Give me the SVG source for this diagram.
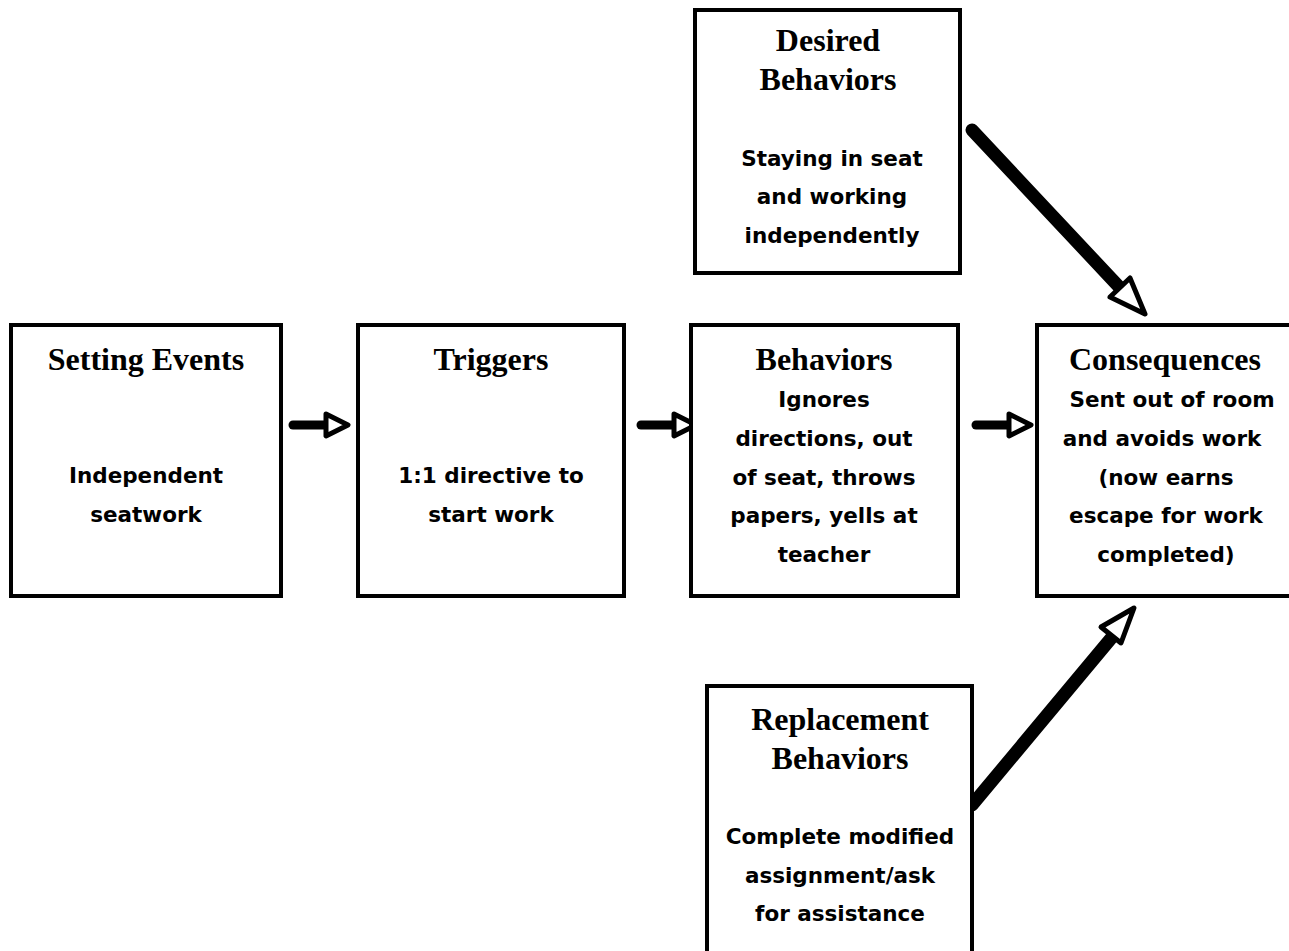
<svg xmlns="http://www.w3.org/2000/svg" width="1289" height="951" viewBox="0 0 1289 951">
<style>
.box{fill:#fff;stroke:#000;stroke-width:4}
.h{font-family:"Liberation Serif","Times New Roman",serif;font-weight:bold;font-size:32px;text-anchor:middle;fill:#000}
.b{font-family:"DejaVu Sans","Noto Sans",sans-serif;font-weight:bold;font-size:21.5px;text-anchor:middle;fill:#000}
.shaft{stroke:#000;stroke-linecap:round;fill:none}
.head{fill:#fff;stroke:#000;stroke-width:5;stroke-linejoin:round}
</style>
<rect width="1289" height="951" fill="#fff"/>
<g id="connectors">
<line class="shaft" x1="293" y1="425" x2="326" y2="425" stroke-width="9"/>
<polygon class="head" points="326,414 348,425 326,436"/>
<line class="shaft" x1="641" y1="425" x2="674" y2="425" stroke-width="9"/>
<polygon class="head" points="674,414 696,425 674,436"/>
<line class="shaft" x1="976" y1="425" x2="1009" y2="425" stroke-width="9"/>
<polygon class="head" points="1009,414 1031,425 1009,436"/>
<line class="shaft" x1="972" y1="130" x2="1122" y2="290" stroke-width="13"/>
<polygon class="head" points="1145,314 1110,297 1130,278"/>
<line class="shaft" x1="972" y1="805" x2="1113" y2="636" stroke-width="13"/>
<polygon class="head" points="1134,608 1121,643 1101,627"/>
</g>
<g id="setting-events">
<rect class="box" x="11" y="325" width="270" height="271"/>
<text class="h" x="146" y="370">Setting Events</text>
<text class="b" x="146" y="483">Independent</text>
<text class="b" x="146" y="522">seatwork</text>
</g>
<g id="triggers">
<rect class="box" x="358" y="325" width="266" height="271"/>
<text class="h" x="491" y="370">Triggers</text>
<text class="b" x="491" y="483">1:1 directive to</text>
<text class="b" x="491" y="522">start work</text>
</g>
<g id="behaviors">
<rect class="box" x="691" y="325" width="267" height="271"/>
<text class="h" x="824" y="370">Behaviors</text>
<text class="b" x="824" y="407">Ignores</text>
<text class="b" x="824" y="446">directions, out</text>
<text class="b" x="824" y="485">of seat, throws</text>
<text class="b" x="824" y="523">papers, yells at</text>
<text class="b" x="824" y="562">teacher</text>
</g>
<g id="consequences">
<rect class="box" x="1037" y="325" width="262" height="271"/>
<text class="h" x="1165" y="370">Consequences</text>
<text class="b" x="1172" y="407">Sent out of room</text>
<text class="b" x="1162" y="446">and avoids work</text>
<text class="b" x="1166" y="485">(now earns</text>
<text class="b" x="1166" y="523">escape for work</text>
<text class="b" x="1166" y="562">completed)</text>
</g>
<g id="desired-behaviors">
<rect class="box" x="695" y="10" width="265" height="263"/>
<text class="h" x="828" y="51">Desired</text>
<text class="h" x="828" y="90">Behaviors</text>
<text class="b" x="832" y="166">Staying in seat</text>
<text class="b" x="832" y="204">and working</text>
<text class="b" x="832" y="243">independently</text>
</g>
<g id="replacement-behaviors">
<rect class="box" x="707" y="686" width="265" height="275"/>
<text class="h" x="840" y="730">Replacement</text>
<text class="h" x="840" y="769">Behaviors</text>
<text class="b" x="840" y="844">Complete modified</text>
<text class="b" x="840" y="883">assignment/ask</text>
<text class="b" x="840" y="921">for assistance</text>
</g>
</svg>
